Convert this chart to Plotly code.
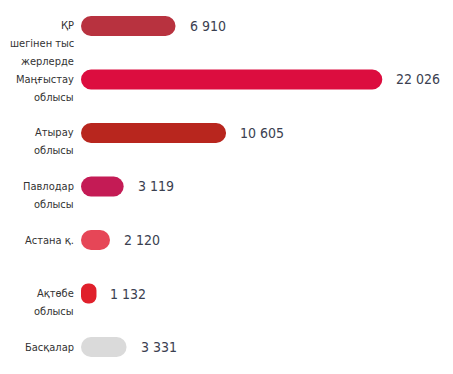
import plotly.graph_objects as go

categories = [["ҚР", "шегінен тыс", "жерлерде"], ["Маңғыстау", "облысы"], ["Атырау", "облысы"],
              ["Павлодар", "облысы"], ["Астана қ."], ["Ақтөбе", "облысы"], ["Басқалар"]]
values = [6910, 22026, 10605, 3119, 2120, 1132, 3331]
colors = ["#b8323f", "#dc0d3f", "#b8261e", "#c41b55", "#e64657", "#e0202b", "#dadada"]

ypos = list(range(len(values)))
FONT = "DejaVu Sans Condensed, sans-serif"

fig = go.Figure()
fig.add_trace(go.Bar(y=ypos, x=values, base=[0] * len(values),
                     orientation="h", width=0.374,
                     marker=dict(color=colors, cornerradius=10, line=dict(width=0)),
                     hoverinfo="skip"))

annotations = []
for y, v, lines in zip(ypos, values, categories):
    annotations.append(dict(x=v, y=y, xref="x", yref="y", text=f"{v:,}".replace(",", " "),
                            showarrow=False, xanchor="left", yanchor="middle", xshift=12,
                            font=dict(family=FONT, size=14, color="#3b4050")))
    for i, line in enumerate(lines):
        annotations.append(dict(x=0, y=y, xref="x", yref="y", text=line,
                                showarrow=False, xanchor="right", yanchor="middle",
                                xshift=-5, yshift=-17.8 * i,
                                font=dict(family=FONT, size=11, color="#333333")))

# page body has an 8px margin; figure is sized/offset to compensate
fig.update_layout(
    width=437, height=358,
    margin=dict(l=73, r=0, t=0, b=0),
    paper_bgcolor="white", plot_bgcolor="white",
    showlegend=False,
    xaxis=dict(range=[0, 26610], visible=False),
    yaxis=dict(range=[6.355, -0.336], visible=False),
    annotations=annotations,
)
fig.write_html("out.html")
